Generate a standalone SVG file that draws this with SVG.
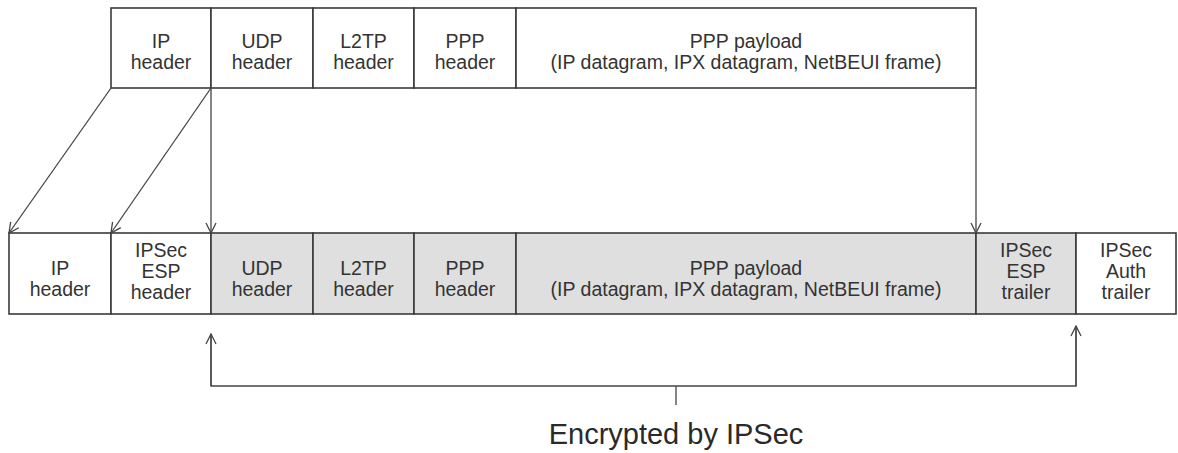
<svg xmlns="http://www.w3.org/2000/svg" width="1178" height="453" viewBox="0 0 1178 453">
<style>
.box{stroke:#3a3a3a;stroke-width:1.6;fill:#ffffff}
.enc{fill:#dfdfdf}
.t{font-family:"Liberation Sans",Arial,sans-serif;font-size:19.5px;fill:#333333;text-anchor:middle}
.big{font-size:29px;fill:#2a2a2a}
.ln{stroke:#444;stroke-width:1.3;fill:none}
</style>
<defs>
<marker id="ah" viewBox="0 0 12 12" refX="11" refY="6" markerWidth="12" markerHeight="12" orient="auto" markerUnits="userSpaceOnUse">
<path d="M1,1 L11,6 L1,11" fill="none" stroke="#444" stroke-width="1.3"/>
</marker>
</defs>
<rect width="1178" height="453" fill="#ffffff"/>

<g id="top-ip"><rect class="box" x="111" y="8" width="100" height="80"/><text class="t" x="161" y="48">IP</text><text class="t" x="161" y="69">header</text></g>
<g id="top-udp"><rect class="box" x="211" y="8" width="102" height="80"/><text class="t" x="262" y="48">UDP</text><text class="t" x="262" y="69">header</text></g>
<g id="top-l2tp"><rect class="box" x="313" y="8" width="101" height="80"/><text class="t" x="363.5" y="48">L2TP</text><text class="t" x="363.5" y="69">header</text></g>
<g id="top-ppp"><rect class="box" x="414" y="8" width="102" height="80"/><text class="t" x="465" y="48">PPP</text><text class="t" x="465" y="69">header</text></g>
<g id="top-payload"><rect class="box" x="516" y="8" width="460" height="80"/><text class="t" x="746" y="48">PPP payload</text><text class="t" x="746" y="69">(IP datagram, IPX datagram, NetBEUI frame)</text></g>

<g id="bot-ip"><rect class="box" x="9" y="233" width="102" height="81"/><text class="t" x="60" y="275">IP</text><text class="t" x="60" y="296">header</text></g>
<g id="bot-esph"><rect class="box" x="111" y="233" width="100" height="81"/><text class="t" x="161" y="257">IPSec</text><text class="t" x="161" y="278">ESP</text><text class="t" x="161" y="299">header</text></g>
<g id="bot-udp"><rect class="box enc" x="211" y="233" width="102" height="81"/><text class="t" x="262" y="275">UDP</text><text class="t" x="262" y="296">header</text></g>
<g id="bot-l2tp"><rect class="box enc" x="313" y="233" width="101" height="81"/><text class="t" x="363.5" y="275">L2TP</text><text class="t" x="363.5" y="296">header</text></g>
<g id="bot-ppp"><rect class="box enc" x="414" y="233" width="102" height="81"/><text class="t" x="465" y="275">PPP</text><text class="t" x="465" y="296">header</text></g>
<g id="bot-payload"><rect class="box enc" x="516" y="233" width="460" height="81"/><text class="t" x="746" y="275">PPP payload</text><text class="t" x="746" y="296">(IP datagram, IPX datagram, NetBEUI frame)</text></g>
<g id="bot-espt"><rect class="box enc" x="976" y="233" width="100" height="81"/><text class="t" x="1026" y="257">IPSec</text><text class="t" x="1026" y="278">ESP</text><text class="t" x="1026" y="299">trailer</text></g>
<g id="bot-auth"><rect class="box" x="1076" y="233" width="100" height="81"/><text class="t" x="1126" y="257">IPSec</text><text class="t" x="1126" y="278">Auth</text><text class="t" x="1126" y="299">trailer</text></g>

<g id="connectors">
<line class="ln" x1="111" y1="88" x2="9" y2="233" marker-end="url(#ah)"/>
<line class="ln" x1="211" y1="88" x2="111" y2="233" marker-end="url(#ah)"/>
<line class="ln" x1="211" y1="88" x2="211" y2="233" marker-end="url(#ah)"/>
<line class="ln" x1="976" y1="88" x2="976" y2="233" marker-end="url(#ah)"/>
<polyline class="ln" points="211,334 211,386 1076,386 1076,326"/>
<line class="ln" x1="211" y1="386" x2="211" y2="334" marker-end="url(#ah)"/>
<line class="ln" x1="1076" y1="386" x2="1076" y2="326" marker-end="url(#ah)"/>
<line class="ln" x1="676" y1="386" x2="676" y2="405"/>
</g>

<g id="label"><text class="t big" x="676" y="444">Encrypted by IPSec</text></g>
</svg>
